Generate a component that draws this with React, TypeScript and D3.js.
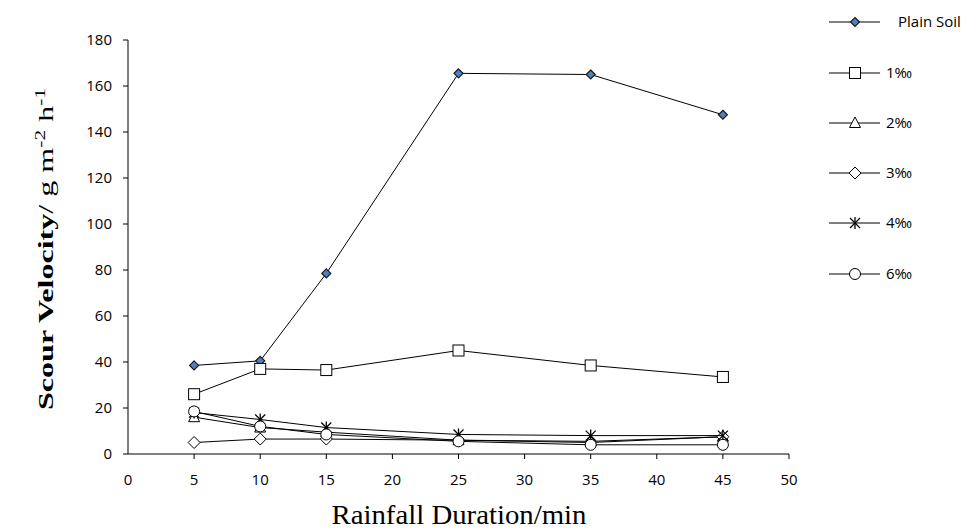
import React from 'react';
import * as d3 from 'd3';

const durations = [5, 10, 15, 25, 35, 45];
const plainSoil = [38.5, 40.5, 78.5, 165.5, 165, 147.5];
const permil1 = [26, 37, 36.5, 45, 38.5, 33.5];
const permil2 = [16, 11.5, 9.5, 6, 5.5, 7.5];
const permil3 = [5, 6.5, 6.5, 6, 5, 7.5];
const permil4 = [18, 15, 11.5, 8.5, 8, 8];
const permil6 = [18.5, 12, 8.5, 5.5, 4, 4];
const xTicks = [0, 5, 10, 15, 20, 25, 30, 35, 40, 45, 50];
const yTicks = [0, 20, 40, 60, 80, 100, 120, 140, 160, 180];

const series = [
  { name: 'Plain Soil', values: plainSoil, marker: 'filledDiamond' },
  { name: '1‰', values: permil1, marker: 'square' },
  { name: '2‰', values: permil2, marker: 'triangle' },
  { name: '3‰', values: permil3, marker: 'diamond' },
  { name: '4‰', values: permil4, marker: 'star' },
  { name: '6‰', values: permil6, marker: 'circle' },
];

const tickFont = '"Open Sans", "Liberation Sans", sans-serif';
const serif = '"Liberation Serif", "Times New Roman", serif';

function Marker({ type, x, y }: { type: string; x: number; y: number }) {
  const s = { stroke: '#000', strokeWidth: 1, fill: '#fff' };
  switch (type) {
    case 'filledDiamond':
      return <path d={`M${x},${y - 4.5}L${x + 4.5},${y}L${x},${y + 4.5}L${x - 4.5},${y}Z`} fill="#4F81BD" stroke="#1a1a1a" strokeWidth={1.2} />;
    case 'square':
      return <rect x={x - 5.5} y={y - 5.5} width={11} height={11} {...s} />;
    case 'triangle':
      return <path d={`M${x},${y - 6}L${x + 5.5},${y + 4.5}L${x - 5.5},${y + 4.5}Z`} {...s} />;
    case 'diamond':
      return <path d={`M${x},${y - 6}L${x + 6},${y}L${x},${y + 6}L${x - 6},${y}Z`} {...s} />;
    case 'star':
      return (
        <g stroke="#000" strokeWidth={1.3}>
          <line x1={x - 5} y1={y - 5} x2={x + 5} y2={y + 5} />
          <line x1={x - 5} y1={y + 5} x2={x + 5} y2={y - 5} />
          <line x1={x} y1={y - 6} x2={x} y2={y + 6} />
        </g>
      );
    case 'circle':
      return <circle cx={x} cy={y} r={5.5} {...s} />;
    default:
      return null;
  }
}

export default function App() {
  const width = 979;
  const height = 530;
  const x = d3.scaleLinear().domain([0, 50]).range([128, 789]);
  const y = d3.scaleLinear().domain([0, 180]).range([454, 40]);
  const line = d3.line<number>()
    .x((_, i) => x(durations[i]))
    .y(d => y(d));

  const legendY = [22, 73, 123, 173, 223, 274];

  return (
    <svg width={width} height={height} style={{ position: 'absolute', left: 0, top: 0 }}>
      <rect width={width} height={height} fill="#fff" />
      {/* axes */}
      <line x1={x(0)} y1={y(0)} x2={x(0)} y2={y(180)} stroke="#000" strokeWidth={1} />
      <line x1={x(0)} y1={y(0)} x2={x(50)} y2={y(0)} stroke="#000" strokeWidth={1} />
      {yTicks.map(t => (
        <g key={`y${t}`}>
          <line x1={x(0) - 5} x2={x(0)} y1={y(t)} y2={y(t)} stroke="#000" />
          <text x={x(0) - 16} y={y(t)} dy="0.35em" textAnchor="end" fontSize={15} fontFamily={tickFont}>{t}</text>
        </g>
      ))}
      {xTicks.map(t => (
        <g key={`x${t}`}>
          {t > 0 && <line x1={x(t)} x2={x(t)} y1={y(0)} y2={y(0) + 5} stroke="#000" />}
          <text x={x(t)} y={485} textAnchor="middle" fontSize={15} fontFamily={tickFont}>{t}</text>
        </g>
      ))}
      <text x={459} y={524} textAnchor="middle" fontSize={27} fontFamily={serif}
        textLength={255} lengthAdjust="spacingAndGlyphs">Rainfall Duration/min</text>
      <g transform={`translate(53,248) rotate(-90)`}>
        <text x={-162} y={0} fontSize={21} fontFamily={serif} textLength={322} lengthAdjust="spacingAndGlyphs">
          <tspan fontWeight="bold">Scour Velocity</tspan>
          <tspan>/ g m</tspan>
          <tspan fontSize={14} dy={-8}>-2</tspan>
          <tspan dy={8}> h</tspan>
          <tspan fontSize={14} dy={-8}>-1</tspan>
        </text>
      </g>
      {/* series */}
      {series.map(s => (
        <g key={s.name}>
          <path d={line(s.values) || ''} fill="none" stroke="#000" strokeWidth={1} />
          {s.values.map((v, i) => (
            <Marker key={i} type={s.marker} x={x(durations[i])} y={y(v)} />
          ))}
        </g>
      ))}
      {/* legend */}
      {series.map((s, i) => (
        <g key={`lg${s.name}`}>
          <line x1={829} x2={880} y1={legendY[i]} y2={legendY[i]} stroke="#000" />
          <Marker type={s.marker} x={855} y={legendY[i]} />
          <text x={i === 0 ? 898 : 886} y={legendY[i]} dy="0.35em" fontSize={15} fontFamily={tickFont}>{s.name}</text>
        </g>
      ))}
    </svg>
  );
}
